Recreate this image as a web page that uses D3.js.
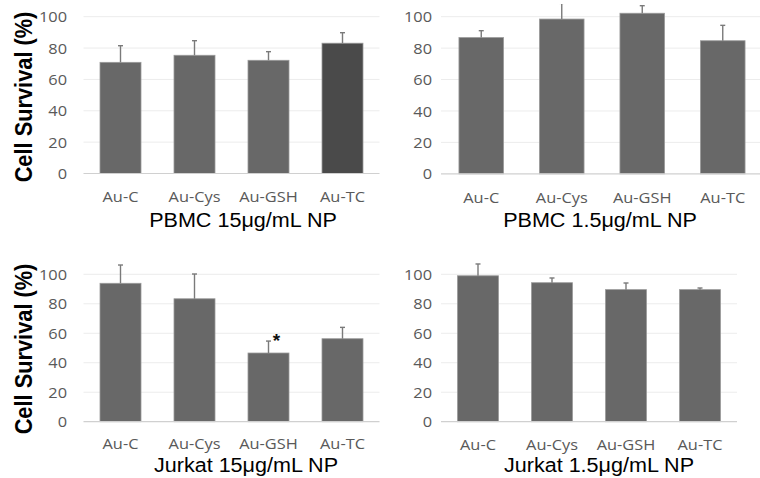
<!DOCTYPE html>
<html>
<head>
<meta charset="utf-8">
<script src="https://cdn.jsdelivr.net/npm/d3@7"></script>
<style>
  html, body { margin: 0; padding: 0; background: #fff; }
  svg { display: block; }
</style>
</head>
<body>
<svg id="chart" width="760" height="478"></svg>
<script>
// ---- Data ----
const categories = ["Au-C", "Au-Cys", "Au-GSH", "Au-TC"];
const yTicks = [0, 20, 40, 60, 80, 100];

const pbmc15Mean = [70.9, 75.4, 72.2, 83.1];
const pbmc15Err  = [10.6, 9.3, 5.5, 6.7];

const pbmc15_1Mean = [86.7, 98.5, 102.2, 84.7];
const pbmc15_1Err  = [4.4, 10.0, 4.8, 9.8];

const jurkat15Mean = [93.9, 83.4, 46.6, 56.3];
const jurkat15Err  = [12.4, 16.8, 8.1, 7.7];

const jurkat15_1Mean = [99.0, 94.3, 89.6, 89.6];
const jurkat15_1Err  = [8.0, 3.2, 4.5, 1.1];

const panelTitles = ["PBMC 15\u03bcg/mL NP", "PBMC 1.5\u03bcg/mL NP", "Jurkat 15\u03bcg/mL NP", "Jurkat 1.5\u03bcg/mL NP"];
const yAxisTitle = "Cell Survival (%)";
const jurkat15Sig = ["Au-GSH"];

// ---- Layout ----
const svg = d3.select("#chart");
const defs = svg.append("defs");
defs.append("clipPath").attr("id", "clipTop")
  .append("rect").attr("x", 0).attr("y", 4).attr("width", 760).attr("height", 474);

const panels = [
  { mean: pbmc15Mean, err: pbmc15Err, title: panelTitles[0], x0: 83.5, x1: 379.5, y0: 173.5, y100: 16.7,
    tickX: 67, catY: 202, titleX: 243, titleY: 226.5, yTitle: true, yTitleY: 97, darkLast: true, sig: [] },
  { mean: pbmc15_1Mean, err: pbmc15_1Err, title: panelTitles[1], x0: 441, x1: 763, y0: 173.8, y100: 16.7,
    tickX: 432, catY: 203, titleX: 600, titleY: 226.5, yTitle: false, darkLast: false, sig: [] },
  { mean: jurkat15Mean, err: jurkat15Err, title: panelTitles[2], x0: 83.5, x1: 379.5, y0: 421.7, y100: 274.3,
    tickX: 67, catY: 449.5, titleX: 246, titleY: 471.5, yTitle: true, yTitleY: 349, darkLast: false, sig: jurkat15Sig },
  { mean: jurkat15_1Mean, err: jurkat15_1Err, title: panelTitles[3], x0: 441, x1: 737, y0: 421.7, y100: 274.3,
    tickX: 432, catY: 450, titleX: 599, titleY: 471.5, yTitle: false, darkLast: false, sig: [] }
];

const tickFont = "'Open Sans', 'Liberation Sans', Arial, sans-serif";
const titleFont = "'Liberation Sans', Arial, Helvetica, sans-serif";
const stretch = 1.17;

panels.forEach((p, pi) => {
  const g = svg.append("g").attr("clip-path", "url(#clipTop)");

  const x = d3.scaleBand().domain(categories).range([p.x0, p.x1])
    .paddingInner(0.446).paddingOuter(0.223);
  const y = d3.scaleLinear().domain([0, 100]).range([p.y0, p.y100]);

  const axisEnd = Math.min(p.x1, 760);

  // gridlines
  g.append("g").selectAll("line").data(yTicks.filter(t => t > 0)).join("line")
    .attr("x1", p.x0).attr("x2", axisEnd)
    .attr("y1", d => y(d)).attr("y2", d => y(d))
    .attr("stroke", "#ececec").attr("stroke-width", 1);

  // y tick labels via axis
  const yAxis = d3.axisLeft(y).tickValues(yTicks).tickSize(0).tickPadding(0);
  const ya = g.append("g").attr("transform", `translate(${p.tickX},0)`).call(yAxis);
  ya.select(".domain").remove();
  ya.selectAll("text")
    .attr("x", 0).attr("dy", "0.36em")
    .attr("fill", "#595959")
    .style("font-family", tickFont).style("font-size", "14px")
    .attr("transform", function(d) { return `translate(0,${y(d)}) scale(${stretch},1) translate(0,${-y(d)})`; });

  // bars
  g.append("g").selectAll("rect").data(categories).join("rect")
    .attr("x", d => x(d))
    .attr("y", (d, i) => y(p.mean[i]))
    .attr("width", x.bandwidth())
    .attr("height", (d, i) => y(0) - y(p.mean[i]))
    .attr("fill", (d, i) => (p.darkLast && i === categories.length - 1) ? "#4a4a4a" : "#686868")
    .attr("stroke", "#9a9a9a").attr("stroke-width", 0.8);

  // error bars (upper only)
  const eg = g.append("g").attr("stroke", "#7a7a7a").attr("stroke-width", 1.4);
  categories.forEach((c, i) => {
    const cx = x(c) + x.bandwidth() / 2;
    const top = y(p.mean[i] + p.err[i]);
    eg.append("line").attr("x1", cx).attr("x2", cx).attr("y1", y(p.mean[i])).attr("y2", top);
    eg.append("line").attr("x1", cx - 2.5).attr("x2", cx + 2.5).attr("y1", top).attr("y2", top);
  });

  // baseline axis
  const xAxis = d3.axisBottom(x).tickSize(0).tickPadding(0);
  const xa = g.append("g").attr("transform", `translate(0,${y(0)})`).call(xAxis);
  xa.select(".domain").remove();
  g.append("line").attr("x1", p.x0).attr("x2", axisEnd).attr("y1", y(0)).attr("y2", y(0))
    .attr("stroke", "#d0d0d0").attr("stroke-width", 1.2);
  xa.selectAll("text")
    .attr("y", p.catY - y(0)).attr("dy", 0)
    .attr("fill", "#595959")
    .style("font-family", tickFont).style("font-size", "14px")
    .attr("transform", function() {
      const ty = p.catY - y(0);
      return `translate(0,${ty}) scale(${stretch},1) translate(0,${-ty})`;
    });

  // significance asterisk
  p.sig.forEach(c => {
    const i = categories.indexOf(c);
    const cx = x(c) + x.bandwidth() / 2 + 8;
    const ty = y(p.mean[i] + p.err[i]) + 5.5;
    g.append("text").attr("x", cx).attr("y", ty)
      .attr("text-anchor", "middle")
      .style("font-family", titleFont).style("font-weight", "bold").style("font-size", "19px")
      .attr("fill", "#111").text("*");
  });

  // panel title
  g.append("text")
    .attr("transform", `translate(${p.titleX},${p.titleY}) scale(1.1,1)`)
    .attr("text-anchor", "middle")
    .style("font-family", titleFont).style("font-size", "19.6px")
    .attr("fill", "#000").text(p.title);

  // y-axis title
  if (p.yTitle) {
    g.append("text")
      .attr("transform", `translate(31.5,${p.yTitleY}) rotate(-90) scale(1,1.06)`)
      .attr("text-anchor", "middle")
      .style("font-family", titleFont).style("font-weight", "bold").style("font-size", "21.8px")
      .attr("fill", "#000").text(yAxisTitle);
  }
});
</script>
</body>
</html>
